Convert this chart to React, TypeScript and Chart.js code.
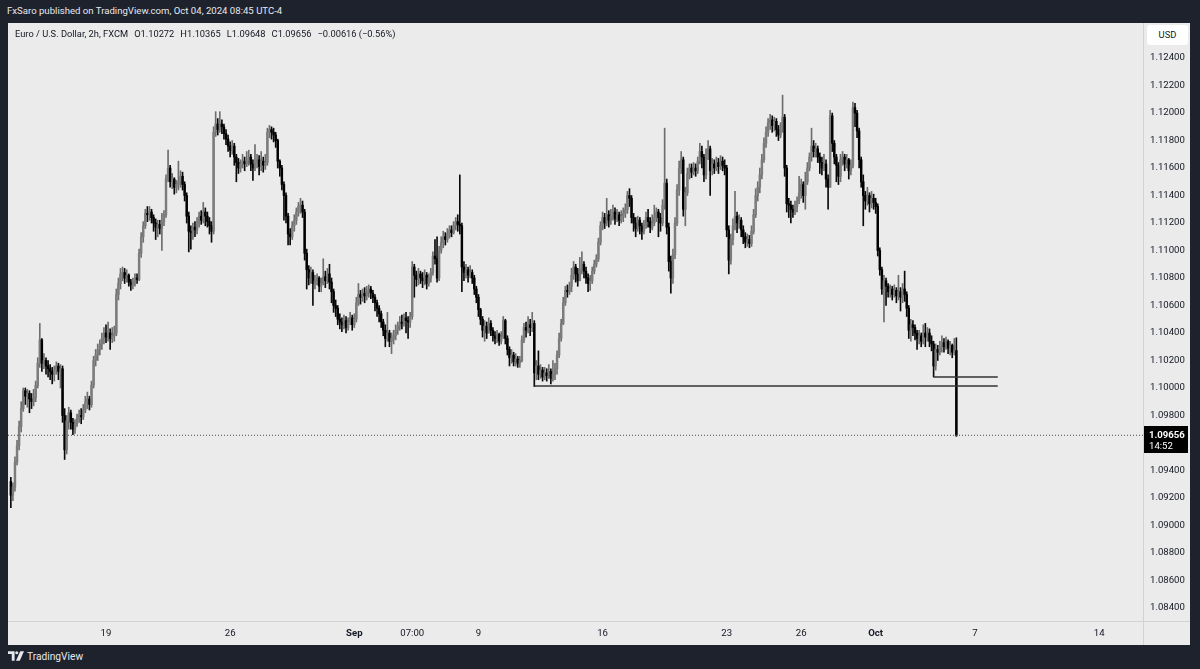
import React, { useEffect, useRef } from 'react';
import { Chart, registerables } from 'chart.js';

Chart.register(...registerables);

// ---- data (2h EUR/USD candles, FXCM) ----
// bar index 0 = first bar of Mon Aug 19; 60 bars per trading week
const FIRST_BAR = -46;
const FIRST_OPEN = 1.0932;

const CLOSE = [
  1.0922, 1.0928, 1.0946, 1.0958, 1.0972, 1.0985, 1.0998, 1.0994, 1.0996, 1.0992,
  1.0990, 1.0993, 1.1002, 1.1018, 1.1035, 1.1018, 1.1020, 1.1016, 1.1014, 1.1012,
  1.1010, 1.1013, 1.1016, 1.1012, 1.1014, 1.0980, 1.0955, 1.0976, 1.0982, 1.0975,
  1.0970, 1.0974, 1.0978, 1.0980, 1.0979, 1.0984, 1.0990, 1.0992, 1.0988, 1.1002,
  1.1020, 1.1024, 1.1028, 1.1032, 1.1036, 1.1040, 1.1037, 1.1040, 1.1036, 1.1038,
  1.1040, 1.1068, 1.1076, 1.1083, 1.1084, 1.1080, 1.1082, 1.1077, 1.1075, 1.1077,
  1.1080, 1.1079, 1.1098, 1.1110, 1.1118, 1.1127, 1.1126, 1.1128, 1.1124, 1.1120,
  1.1117, 1.1119, 1.1116, 1.1121, 1.1126, 1.1152, 1.1160, 1.1150, 1.1152, 1.1146,
  1.1148, 1.1150, 1.1154, 1.1148, 1.1140, 1.1125, 1.1114, 1.1113, 1.1117, 1.1115,
  1.1120, 1.1125, 1.1122, 1.1128, 1.1125, 1.1121, 1.1118, 1.1114, 1.1186, 1.1192,
  1.1188, 1.1192, 1.1190, 1.1185, 1.1181, 1.1176, 1.1173, 1.1176, 1.1168, 1.1164,
  1.1160, 1.1163, 1.1165, 1.1163, 1.1166, 1.1168, 1.1163, 1.1160, 1.1164, 1.1166,
  1.1161, 1.1165, 1.1162, 1.1164, 1.1186, 1.1188, 1.1186, 1.1184, 1.1180, 1.1165,
  1.1160, 1.1148, 1.1140, 1.1125, 1.1112, 1.1110, 1.1118, 1.1122, 1.1128, 1.1132,
  1.1133, 1.1128, 1.1098, 1.1086, 1.1080, 1.1084, 1.1076, 1.1078, 1.1080, 1.1074,
  1.1076, 1.1081, 1.1078, 1.1083, 1.1077, 1.1070, 1.1060, 1.1058, 1.1050, 1.1048,
  1.1046, 1.1049, 1.1044, 1.1048, 1.1051, 1.1046, 1.1050, 1.1062, 1.1068, 1.1066,
  1.1069, 1.1067, 1.1070, 1.1072, 1.1069, 1.1066, 1.1062, 1.1058, 1.1054, 1.1048,
  1.1042, 1.1036, 1.1040, 1.1034, 1.1036, 1.1038, 1.1042, 1.1045, 1.1048, 1.1047,
  1.1051, 1.1049, 1.1048, 1.1052, 1.1088, 1.1082, 1.1079, 1.1083, 1.1080, 1.1078,
  1.1082, 1.1076, 1.1080, 1.1084, 1.1096, 1.1094, 1.1080, 1.1100, 1.1106, 1.1110,
  1.1108, 1.1112, 1.1115, 1.1113, 1.1118, 1.1121, 1.1119, 1.1118, 1.1088, 1.1084,
  1.1086, 1.1082, 1.1084, 1.1080, 1.1072, 1.1066, 1.1057, 1.1050, 1.1042, 1.1045,
  1.1040, 1.1047, 1.1042, 1.1038, 1.1036, 1.1039, 1.1034, 1.1037, 1.1049, 1.1036,
  1.1028, 1.1022, 1.1024, 1.1019, 1.1021, 1.1018, 1.1020, 1.1035, 1.1044, 1.1042,
  1.1046, 1.1044, 1.1047, 1.1011, 1.1016, 1.1010, 1.1013, 1.1008, 1.1011, 1.1009,
  1.1012, 1.1007, 1.1010, 1.1014, 1.1024, 1.1036, 1.1047, 1.1062, 1.1071, 1.1070,
  1.1074, 1.1082, 1.1088, 1.1083, 1.1078, 1.1086, 1.1090, 1.1085, 1.1080, 1.1076,
  1.1078, 1.1085, 1.1090, 1.1094, 1.1106, 1.1118, 1.1124, 1.1120, 1.1126, 1.1122,
  1.1125, 1.1128, 1.1123, 1.1126, 1.1122, 1.1125, 1.1127, 1.1130, 1.1140, 1.1138,
  1.1124, 1.1120, 1.1116, 1.1122, 1.1118, 1.1114, 1.1119, 1.1124, 1.1121, 1.1117,
  1.1120, 1.1124, 1.1128, 1.1124, 1.1120, 1.1133, 1.1149, 1.1117, 1.1092, 1.1080,
  1.1097, 1.1120, 1.1144, 1.1160, 1.1166, 1.1130, 1.1142, 1.1156, 1.1160, 1.1157,
  1.1160, 1.1158, 1.1165, 1.1172, 1.1168, 1.1155, 1.1170, 1.1174, 1.1158, 1.1163,
  1.1160, 1.1164, 1.1161, 1.1165, 1.1162, 1.1160, 1.1115, 1.1093, 1.1108, 1.1118,
  1.1125, 1.1120, 1.1122, 1.1115, 1.1110, 1.1106, 1.1108, 1.1105, 1.1114, 1.1126,
  1.1140, 1.1146, 1.1155, 1.1166, 1.1178, 1.1186, 1.1193, 1.1195, 1.1191, 1.1194,
  1.1188, 1.1184, 1.1190, 1.1197, 1.1160, 1.1134, 1.1133, 1.1130, 1.1128, 1.1132,
  1.1136, 1.1142, 1.1148, 1.1140, 1.1150, 1.1160, 1.1168, 1.1176, 1.1172, 1.1174,
  1.1168, 1.1164, 1.1160, 1.1163, 1.1152, 1.1146, 1.1198, 1.1178, 1.1168, 1.1162,
  1.1154, 1.1166, 1.1168, 1.1163, 1.1166, 1.1158, 1.1162, 1.1204, 1.1200, 1.1187,
  1.1166, 1.1150, 1.1140, 1.1136, 1.1140, 1.1134, 1.1138, 1.1135, 1.1132, 1.1100,
  1.1086, 1.1072, 1.1078, 1.1074, 1.1070, 1.1072, 1.1068, 1.1071, 1.1067, 1.1070,
  1.1066, 1.1072, 1.1068, 1.1058, 1.1042, 1.1046, 1.1044, 1.1040, 1.1036, 1.1038,
  1.1034, 1.1040, 1.1037, 1.1040, 1.1034, 1.1032, 1.1016, 1.1028, 1.1026, 1.1030,
  1.1033, 1.1030, 1.1034, 1.1029, 1.1031, 1.1026, 1.10272, 1.09656,
];

const HIGH = [
  1.0935, 1.0931, 1.0950, 1.0962, 1.0976, 1.0990, 1.1000, 1.1000, 1.0999, 1.0998,
  1.0996, 1.0999, 1.1005, 1.1022, 1.1047, 1.1036, 1.1025, 1.1022, 1.1020, 1.1017,
  1.1015, 1.1016, 1.1019, 1.1018, 1.1017, 1.1016, 1.0985, 1.0980, 1.0986, 1.0984,
  1.0978, 1.0977, 1.0981, 1.0984, 1.0985, 1.0988, 1.0994, 1.0997, 1.0994, 1.1005,
  1.1023, 1.1028, 1.1032, 1.1035, 1.1040, 1.1044, 1.1046, 1.1048, 1.1043, 1.1044,
  1.1045, 1.1072, 1.1080, 1.1087, 1.1088, 1.1087, 1.1086, 1.1083, 1.1079, 1.1080,
  1.1083, 1.1083, 1.1101, 1.1113, 1.1121, 1.1130, 1.1132, 1.1132, 1.1130, 1.1126,
  1.1123, 1.1122, 1.1122, 1.1127, 1.1129, 1.1155, 1.1173, 1.1162, 1.1156, 1.1153,
  1.1151, 1.1165, 1.1158, 1.1157, 1.1150, 1.1142, 1.1128, 1.1118, 1.1120, 1.1121,
  1.1124, 1.1128, 1.1129, 1.1135, 1.1131, 1.1128, 1.1124, 1.1121, 1.1190, 1.1201,
  1.1196, 1.1201, 1.1195, 1.1192, 1.1188, 1.1184, 1.1179, 1.1180, 1.1178, 1.1170,
  1.1167, 1.1166, 1.1170, 1.1168, 1.1172, 1.1173, 1.1170, 1.1166, 1.1177, 1.1170,
  1.1169, 1.1172, 1.1168, 1.1170, 1.1189, 1.1191, 1.1190, 1.1189, 1.1186, 1.1181,
  1.1166, 1.1162, 1.1150, 1.1142, 1.1127, 1.1116, 1.1121, 1.1126, 1.1131, 1.1135,
  1.1138, 1.1136, 1.1130, 1.1101, 1.1089, 1.1088, 1.1086, 1.1082, 1.1083, 1.1081,
  1.1080, 1.1094, 1.1085, 1.1087, 1.1090, 1.1080, 1.1072, 1.1064, 1.1060, 1.1054,
  1.1051, 1.1053, 1.1052, 1.1051, 1.1055, 1.1053, 1.1054, 1.1066, 1.1076, 1.1071,
  1.1072, 1.1073, 1.1074, 1.1075, 1.1074, 1.1071, 1.1068, 1.1064, 1.1060, 1.1056,
  1.1050, 1.1046, 1.1055, 1.1042, 1.1040, 1.1042, 1.1046, 1.1048, 1.1052, 1.1053,
  1.1054, 1.1055, 1.1052, 1.1055, 1.1092, 1.1090, 1.1085, 1.1087, 1.1085, 1.1084,
  1.1086, 1.1084, 1.1083, 1.1087, 1.1099, 1.1108, 1.1110, 1.1103, 1.1110, 1.1114,
  1.1113, 1.1116, 1.1118, 1.1118, 1.1121, 1.1124, 1.1126, 1.1155, 1.1120, 1.1092,
  1.1090, 1.1088, 1.1089, 1.1086, 1.1082, 1.1074, 1.1068, 1.1058, 1.1052, 1.1049,
  1.1048, 1.1051, 1.1049, 1.1044, 1.1041, 1.1042, 1.1040, 1.1041, 1.1052, 1.1050,
  1.1038, 1.1030, 1.1028, 1.1026, 1.1025, 1.1023, 1.1023, 1.1038, 1.1047, 1.1048,
  1.1052, 1.1050, 1.1055, 1.1049, 1.1020, 1.1027, 1.1017, 1.1015, 1.1015, 1.1014,
  1.1017, 1.1014, 1.1020, 1.1018, 1.1027, 1.1040, 1.1050, 1.1066, 1.1074, 1.1075,
  1.1077, 1.1087, 1.1092, 1.1090, 1.1087, 1.1095, 1.1099, 1.1092, 1.1088, 1.1083,
  1.1082, 1.1088, 1.1093, 1.1097, 1.1109, 1.1121, 1.1128, 1.1127, 1.1138, 1.1129,
  1.1130, 1.1133, 1.1131, 1.1130, 1.1128, 1.1129, 1.1131, 1.1134, 1.1143, 1.1145,
  1.1140, 1.1127, 1.1124, 1.1125, 1.1124, 1.1120, 1.1122, 1.1128, 1.1130, 1.1124,
  1.1126, 1.1133, 1.1131, 1.1130, 1.1127, 1.1137, 1.1189, 1.1152, 1.1120, 1.1096,
  1.1101, 1.1124, 1.1148, 1.1165, 1.1172, 1.1168, 1.1146, 1.1160, 1.1163, 1.1163,
  1.1164, 1.1163, 1.1168, 1.1178, 1.1176, 1.1170, 1.1174, 1.1180, 1.1176, 1.1167,
  1.1166, 1.1168, 1.1167, 1.1169, 1.1168, 1.1166, 1.1162, 1.1118, 1.1112, 1.1123,
  1.1143, 1.1128, 1.1126, 1.1124, 1.1118, 1.1113, 1.1112, 1.1111, 1.1118, 1.1130,
  1.1145, 1.1150, 1.1160, 1.1170, 1.1182, 1.1190, 1.1196, 1.1199, 1.1198, 1.1197,
  1.1196, 1.1191, 1.1193, 1.1213, 1.1199, 1.1162, 1.1138, 1.1136, 1.1133, 1.1136,
  1.1139, 1.1154, 1.1152, 1.1150, 1.1157, 1.1164, 1.1171, 1.1189, 1.1180, 1.1178,
  1.1176, 1.1171, 1.1168, 1.1170, 1.1166, 1.1155, 1.1202, 1.1200, 1.1180, 1.1170,
  1.1164, 1.1170, 1.1172, 1.1170, 1.1170, 1.1167, 1.1166, 1.1208, 1.1207, 1.1202,
  1.1189, 1.1168, 1.1155, 1.1143, 1.1146, 1.1142, 1.1143, 1.1141, 1.1138, 1.1134,
  1.1102, 1.1088, 1.1082, 1.1080, 1.1076, 1.1075, 1.1074, 1.1075, 1.1073, 1.1082,
  1.1073, 1.1076, 1.1085, 1.1070, 1.1060, 1.1050, 1.1049, 1.1046, 1.1042, 1.1042,
  1.1040, 1.1046, 1.1047, 1.1044, 1.1043, 1.1038, 1.1034, 1.1032, 1.1031, 1.1034,
  1.1038, 1.1036, 1.1037, 1.1035, 1.1034, 1.1032, 1.1036, 1.10365,
];

const LOW = [
  1.0913, 1.0918, 1.0925, 1.0944, 1.0955, 1.0968, 1.0983, 1.0988, 1.0986, 1.0982,
  1.0985, 1.0987, 1.0990, 1.1000, 1.1015, 1.1012, 1.1014, 1.1010, 1.1008, 1.1006,
  1.1003, 1.1005, 1.1010, 1.1006, 1.1000, 1.0975, 1.0948, 1.0952, 1.0970, 1.0970,
  1.0966, 1.0967, 1.0972, 1.0975, 1.0974, 1.0977, 1.0982, 1.0985, 1.0984, 1.0986,
  1.1000, 1.1016, 1.1020, 1.1024, 1.1028, 1.1032, 1.1033, 1.1034, 1.1028, 1.1033,
  1.1034, 1.1038, 1.1064, 1.1072, 1.1078, 1.1076, 1.1077, 1.1074, 1.1071, 1.1072,
  1.1074, 1.1076, 1.1078, 1.1095, 1.1106, 1.1116, 1.1121, 1.1122, 1.1120, 1.1114,
  1.1108, 1.1110, 1.1112, 1.1100, 1.1118, 1.1124, 1.1150, 1.1146, 1.1145, 1.1141,
  1.1142, 1.1144, 1.1146, 1.1144, 1.1136, 1.1120, 1.1099, 1.1101, 1.1108, 1.1110,
  1.1112, 1.1117, 1.1119, 1.1120, 1.1118, 1.1117, 1.1112, 1.1106, 1.1112, 1.1183,
  1.1184, 1.1186, 1.1185, 1.1181, 1.1177, 1.1172, 1.1168, 1.1170, 1.1162, 1.1150,
  1.1156, 1.1157, 1.1160, 1.1158, 1.1161, 1.1162, 1.1158, 1.1151, 1.1158, 1.1160,
  1.1155, 1.1158, 1.1157, 1.1159, 1.1162, 1.1182, 1.1181, 1.1179, 1.1175, 1.1160,
  1.1154, 1.1144, 1.1122, 1.1120, 1.1104, 1.1104, 1.1108, 1.1114, 1.1119, 1.1125,
  1.1127, 1.1124, 1.1093, 1.1072, 1.1075, 1.1076, 1.1060, 1.1072, 1.1075, 1.1070,
  1.1070, 1.1075, 1.1073, 1.1076, 1.1072, 1.1062, 1.1055, 1.1052, 1.1046, 1.1043,
  1.1041, 1.1043, 1.1040, 1.1042, 1.1046, 1.1042, 1.1044, 1.1048, 1.1060, 1.1061,
  1.1063, 1.1062, 1.1064, 1.1066, 1.1065, 1.1062, 1.1056, 1.1052, 1.1048, 1.1044,
  1.1038, 1.1030, 1.1034, 1.1030, 1.1025, 1.1032, 1.1035, 1.1039, 1.1042, 1.1043,
  1.1045, 1.1040, 1.1036, 1.1044, 1.1050, 1.1066, 1.1074, 1.1075, 1.1076, 1.1073,
  1.1075, 1.1072, 1.1074, 1.1077, 1.1082, 1.1090, 1.1077, 1.1078, 1.1098, 1.1102,
  1.1104, 1.1106, 1.1109, 1.1110, 1.1112, 1.1115, 1.1114, 1.1112, 1.1070, 1.1078,
  1.1080, 1.1077, 1.1080, 1.1076, 1.1068, 1.1062, 1.1052, 1.1046, 1.1037, 1.1034,
  1.1036, 1.1040, 1.1038, 1.1034, 1.1032, 1.1033, 1.1031, 1.1032, 1.1036, 1.1032,
  1.1024, 1.1016, 1.1018, 1.1016, 1.1016, 1.1015, 1.1015, 1.1019, 1.1033, 1.1037,
  1.1040, 1.1038, 1.1041, 1.1001, 1.1006, 1.1006, 1.1007, 1.1005, 1.1006, 1.1005,
  1.1007, 1.1003, 1.1005, 1.1006, 1.1010, 1.1022, 1.1034, 1.1046, 1.1060, 1.1066,
  1.1068, 1.1070, 1.1079, 1.1077, 1.1074, 1.1080, 1.1083, 1.1080, 1.1076, 1.1070,
  1.1071, 1.1076, 1.1083, 1.1088, 1.1092, 1.1104, 1.1115, 1.1116, 1.1118, 1.1117,
  1.1119, 1.1122, 1.1119, 1.1121, 1.1118, 1.1120, 1.1121, 1.1124, 1.1127, 1.1132,
  1.1120, 1.1114, 1.1110, 1.1114, 1.1112, 1.1108, 1.1112, 1.1116, 1.1117, 1.1113,
  1.1115, 1.1118, 1.1121, 1.1110, 1.1114, 1.1118, 1.1130, 1.1112, 1.1085, 1.1069,
  1.1076, 1.1094, 1.1118, 1.1140, 1.1156, 1.1125, 1.1118, 1.1140, 1.1152, 1.1153,
  1.1155, 1.1154, 1.1156, 1.1163, 1.1160, 1.1150, 1.1152, 1.1166, 1.1140, 1.1155,
  1.1156, 1.1158, 1.1156, 1.1159, 1.1158, 1.1155, 1.1110, 1.1083, 1.1090, 1.1104,
  1.1115, 1.1113, 1.1116, 1.1110, 1.1105, 1.1102, 1.1103, 1.1102, 1.1103, 1.1112,
  1.1124, 1.1136, 1.1142, 1.1152, 1.1164, 1.1175, 1.1183, 1.1188, 1.1186, 1.1187,
  1.1183, 1.1180, 1.1182, 1.1186, 1.1154, 1.1128, 1.1124, 1.1120, 1.1124, 1.1126,
  1.1128, 1.1134, 1.1138, 1.1135, 1.1130, 1.1148, 1.1158, 1.1165, 1.1168, 1.1168,
  1.1164, 1.1156, 1.1155, 1.1158, 1.1146, 1.1130, 1.1146, 1.1172, 1.1163, 1.1150,
  1.1148, 1.1150, 1.1162, 1.1158, 1.1160, 1.1152, 1.1155, 1.1160, 1.1190, 1.1182,
  1.1160, 1.1146, 1.1118, 1.1130, 1.1133, 1.1128, 1.1131, 1.1130, 1.1127, 1.1096,
  1.1082, 1.1068, 1.1048, 1.1060, 1.1066, 1.1066, 1.1064, 1.1066, 1.1062, 1.1064,
  1.1056, 1.1062, 1.1063, 1.1052, 1.1036, 1.1034, 1.1038, 1.1035, 1.1028, 1.1032,
  1.1030, 1.1032, 1.1030, 1.1034, 1.1030, 1.1027, 1.1008, 1.1013, 1.1020, 1.1024,
  1.1026, 1.1026, 1.1028, 1.1025, 1.1024, 1.1022, 1.1024, 1.09648,
];

// time axis labels (bar index -> label)
const TIME_TICK_POS = [0, 60, 120, 148, 180, 240, 300, 336, 372, 420, 480];
const TIME_TICK_LABELS = ['19', '26', 'Sep', '07:00', '9', '16', '23', '26', 'Oct', '7', '14'];
const MONTH_LABELS = ['Sep', 'Oct'];

// price axis
const PRICE_STEP = 0.002;
const PRICE_MIN = 1.08305;
const PRICE_MAX = 1.12655;
const BAR_MIN = -47.37;
const BAR_MAX = 501.2;

// horizontal drawings (support lines)
const LEVEL_FROM = [207, 400];
const LEVEL_TO = [431, 431];
const LEVEL_PRICE = [1.10014, 1.1008];

const LAST_PRICE = 1.09656;
const COUNTDOWN = '14:52';
const HEADER_ITEMS = ['Euro / U.S. Dollar, 2h, FXCM', 'O1.10272', 'H1.10365', 'L1.09648', 'C1.09656', '\u22120.00616 (\u22120.56%)'];

const FONT = 'Roboto, "Liberation Sans", sans-serif';
const UP_COLOR = '#7c7c7c';
const DOWN_COLOR = '#000000';
const UP_WICK = '#6e6e6e';
const DOWN_WICK = '#0a0a0a';
const TEXT = '#131722';
const AXIS_FONT_SIZE = 9.6;

export default function App() {
  const canvasRef = useRef<HTMLCanvasElement | null>(null);

  useEffect(() => {
    const canvas = canvasRef.current;
    if (!canvas) return;

    const bars = CLOSE.map((c, k) => {
      const o = k === 0 ? FIRST_OPEN : CLOSE[k - 1];
      return {
        x: FIRST_BAR + k,
        o,
        c,
        h: Math.max(HIGH[k], o, c),
        l: Math.min(LOW[k], o, c),
      };
    });

    const priceLabelPlugin = {
      id: 'priceLabel',
      afterDraw(chart: any) {
        const y = chart.scales.y;
        const ctx = chart.ctx;
        const py = Math.round(y.getPixelForValue(LAST_PRICE));
        ctx.save();
        ctx.fillStyle = '#000000';
        ctx.fillRect(y.left, py - 9, 45, 27);
        ctx.fillStyle = '#ffffff';
        ctx.textBaseline = 'middle';
        ctx.textAlign = 'left';
        ctx.font = `bold ${AXIS_FONT_SIZE}px ${FONT}`;
        ctx.fillText(LAST_PRICE.toFixed(5), y.left + 6, py + 1);
        ctx.font = `${AXIS_FONT_SIZE}px ${FONT}`;
        ctx.fillText(COUNTDOWN, y.left + 6, py + 12);
        ctx.restore();
      },
    };

    const levelDatasets = LEVEL_PRICE.map((p, k) => ({
      type: 'line' as const,
      data: [
        { x: LEVEL_FROM[k], y: p },
        { x: LEVEL_TO[k], y: p },
      ],
      borderColor: '#333333',
      borderWidth: 1.5,
      pointRadius: 0,
      fill: false,
    }));

    const chart = new Chart(canvas, {
      type: 'bar',
      data: {
        datasets: [
          ...levelDatasets,
          {
            type: 'line' as const,
            data: [
              { x: BAR_MIN, y: LAST_PRICE },
              { x: BAR_MAX, y: LAST_PRICE },
            ],
            borderColor: '#4a4a4a',
            borderWidth: 1,
            borderDash: [1, 2],
            pointRadius: 0,
            fill: false,
          },
          {
            type: 'bar' as const,
            data: bars.map((b) => ({ x: b.x, y: [b.o, b.c] })),
            backgroundColor: bars.map((b) => (b.c >= b.o ? UP_COLOR : DOWN_COLOR)),
            barThickness: 1.8,
            grouped: false,
            borderWidth: 0,
          } as any,
          {
            type: 'bar' as const,
            data: bars.map((b) => ({ x: b.x, y: [b.l, b.h] })),
            backgroundColor: bars.map((b) => (b.c >= b.o ? UP_WICK : DOWN_WICK)),
            barThickness: 1,
            grouped: false,
            borderWidth: 0,
          } as any,
        ],
      },
      options: {
        responsive: false,
        animation: false,
        devicePixelRatio: 1,
        events: [],
        layout: { padding: 0 },
        plugins: {
          legend: { display: false },
          tooltip: { enabled: false },
        },
        scales: {
          x: {
            type: 'linear',
            min: BAR_MIN,
            max: BAR_MAX,
            offset: false,
            grid: { display: false, drawTicks: false },
            border: { display: false },
            afterBuildTicks: (s: any) => {
              s.ticks = TIME_TICK_POS.map((v) => ({ value: v }));
            },
            afterFit: (s: any) => {
              s.height = 24;
              s.paddingLeft = 0;
              s.paddingRight = 0;
            },
            ticks: {
              autoSkip: false,
              maxRotation: 0,
              minRotation: 0,
              padding: 7,
              color: TEXT,
              font: (ctx: any) => {
                const idx = ctx.tick ? TIME_TICK_POS.indexOf(ctx.tick.value) : -1;
                const lab = idx >= 0 ? TIME_TICK_LABELS[idx] : '';
                return {
                  family: FONT,
                  size: AXIS_FONT_SIZE,
                  weight: MONTH_LABELS.includes(lab) ? 'bold' : 'normal',
                };
              },
              callback: (v: any) => {
                const idx = TIME_TICK_POS.indexOf(Number(v));
                return idx >= 0 ? TIME_TICK_LABELS[idx] : '';
              },
            },
          } as any,
          y: {
            type: 'linear',
            position: 'right',
            min: PRICE_MIN,
            max: PRICE_MAX,
            grid: { display: false, drawTicks: false },
            border: { display: false },
            afterFit: (s: any) => {
              s.width = 47;
              s.paddingTop = 0;
              s.paddingBottom = 0;
            },
            ticks: {
              stepSize: PRICE_STEP,
              includeBounds: false,
              padding: 7,
              color: TEXT,
              font: { family: FONT, size: AXIS_FONT_SIZE },
              callback: (v: any) => Number(v).toFixed(5),
            },
          } as any,
        },
      },
      plugins: [priceLabelPlugin],
    } as any);

    return () => chart.destroy();
  }, []);

  return (
    <div
      style={{
        position: 'absolute',
        left: 0,
        top: 0,
        width: 1200,
        height: 669,
        background: '#1e222d',
        overflow: 'hidden',
        fontFamily: FONT,
      }}
    >
      <div
        style={{
          position: 'absolute',
          left: 7,
          top: 3,
          fontSize: 9.6,
          lineHeight: '16px',
          color: '#e6e8ee',
          whiteSpace: 'nowrap',
        }}
      >
        FxSaro published on TradingView.com, Oct 04, 2024 08:45 UTC-4
      </div>

      <div
        style={{
          position: 'absolute',
          left: 8,
          top: 23,
          width: 1182,
          height: 622,
          background: '#ebebeb',
        }}
      >
        <canvas
          ref={canvasRef}
          width={1182}
          height={622}
          style={{ position: 'absolute', left: 0, top: 0, width: 1182, height: 622 }}
        />
        {/* axis separators */}
        <div style={{ position: 'absolute', left: 1135, top: 0, width: 1, height: 622, background: '#d2d2d2' }} />
        <div style={{ position: 'absolute', left: 0, top: 598, width: 1182, height: 1, background: '#d2d2d2' }} />
        <div
          style={{
            position: 'absolute',
            left: 7,
            top: 4,
            fontSize: 9.3,
            lineHeight: '14px',
            color: TEXT,
            whiteSpace: 'nowrap',
            display: 'flex',
          }}
        >
          {HEADER_ITEMS.map((t, k) => (
            <span key={k} style={{ marginLeft: k === 0 ? 0 : 6 }}>
              {t}
            </span>
          ))}
        </div>
        <div
          style={{
            position: 'absolute',
            left: 1139,
            top: 2,
            width: 41,
            height: 20,
            background: '#ffffff',
            borderRadius: 3,
            fontSize: 9.4,
            lineHeight: '20px',
            textAlign: 'center',
            color: TEXT,
          }}
        >
          USD
        </div>
      </div>

      <div
        style={{
          position: 'absolute',
          left: 8,
          top: 649,
          height: 14,
          display: 'flex',
          alignItems: 'center',
          color: '#e6e8ee',
          fontSize: 10.2,
        }}
      >
        <svg width="16" height="10" viewBox="0 0 17 10" style={{ marginRight: 3 }}>
          <path d="M0 0 H7 V10 H4 V3 H0 Z" fill="#e6e8ee" />
          <circle cx="9.3" cy="1.6" r="1.6" fill="#e6e8ee" />
          <path d="M13 0 H17 L12.5 10 H8.5 Z" fill="#e6e8ee" />
        </svg>
        <span>TradingView</span>
      </div>
    </div>
  );
}
